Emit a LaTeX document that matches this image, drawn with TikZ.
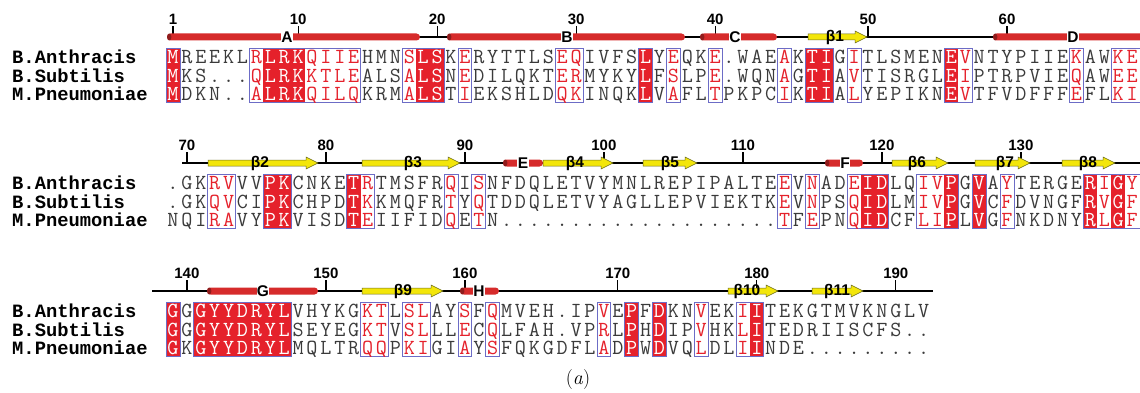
\documentclass[tikz,border=0pt]{standalone}
\usepackage{fontspec}
\newfontfamily\numfont{Liberation Sans}
\newfontfamily\namefont{Liberation Mono}
\usetikzlibrary{calc}
\definecolor{consfill}{HTML}{E5212B}
\definecolor{simframe}{HTML}{6C6CC6}
\definecolor{resk}{HTML}{3A3A3A}
\definecolor{resr}{HTML}{E5212B}
\definecolor{resw}{HTML}{FFFFFF}
\definecolor{helixfill}{HTML}{D62B2B}
\definecolor{helixend}{HTML}{8F1C1C}
\definecolor{strandfill}{HTML}{F3E60A}
\definecolor{strandline}{HTML}{6B6B22}
\tikzset{
  res/.style       = {inner sep=0pt, anchor=base, text height=12pt, text depth=0pt,
                      font=\fontsize{21.5}{21}\selectfont\ttfamily},
  seqname/.style   = {inner sep=0pt, anchor=base west, text height=12pt, text depth=0pt,
                      font=\fontsize{18.8}{19}\selectfont\namefont\bfseries},
  simbox/.style    = {draw=simframe, line width=0.9pt},
  backbone/.style  = {line width=1.4pt, draw=black},
  helix/.style     = {fill=helixfill, rounded corners=3.5pt},
  helixcap/.style  = {fill=helixend},
  strand/.style    = {fill=strandfill, draw=strandline, line width=0.5pt},
  sslabel/.style   = {font=\fontsize{15.5}{15}\selectfont\numfont\bfseries, inner sep=0.4pt},
  numlabel/.style  = {font=\fontsize{15}{15}\selectfont\numfont\bfseries,
                      inner sep=0pt, anchor=base},
  numtick/.style   = {line width=1.2pt},
}
%% --- aligned sequences, one list per block --------------------------
\def\seqBAa{M,R,E,E,K,L,R,L,R,K,Q,I,I,E,H,M,N,S,L,S,K,E,R,Y,T,T,L,S,E,Q,I,V,F,S,L,Y,E,Q,K,E,.,W,A,E,A,K,T,I,G,I,T,L,S,M,E,N,E,V,N,T,Y,P,I,I,E,K,A,W,K,E}
\def\seqBSa{M,K,S,.,.,.,Q,L,R,K,K,T,L,E,A,L,S,A,L,S,N,E,D,I,L,Q,K,T,E,R,M,Y,K,Y,L,F,S,L,P,E,.,W,Q,N,A,G,T,I,A,V,T,I,S,R,G,L,E,I,P,T,R,P,V,I,E,Q,A,W,E,E}
\def\seqMPa{M,D,K,N,.,.,A,L,R,K,Q,I,L,Q,K,R,M,A,L,S,T,I,E,K,S,H,L,D,Q,K,I,N,Q,K,L,V,A,F,L,T,P,K,P,C,I,K,T,I,A,L,Y,E,P,I,K,N,E,V,T,F,V,D,F,F,F,E,F,L,K,I}
\def\seqBAb{.,G,K,R,V,V,V,P,K,C,N,K,E,T,R,T,M,S,F,R,Q,I,S,N,F,D,Q,L,E,T,V,Y,M,N,L,R,E,P,I,P,A,L,T,E,E,V,N,A,D,E,I,D,L,Q,I,V,P,G,V,A,Y,T,E,R,G,E,R,I,G,Y}
\def\seqBSb{.,G,K,Q,V,C,I,P,K,C,H,P,D,T,K,K,M,Q,F,R,T,Y,Q,T,D,D,Q,L,E,T,V,Y,A,G,L,L,E,P,V,I,E,K,T,K,E,V,N,P,S,Q,I,D,L,M,I,V,P,G,V,C,F,D,V,N,G,F,R,V,G,F}
\def\seqMPb{N,Q,I,R,A,V,Y,P,K,V,I,S,D,T,E,I,I,F,I,D,Q,E,T,N,.,.,.,.,.,.,.,.,.,.,.,.,.,.,.,.,.,.,.,.,T,F,E,P,N,Q,I,D,C,F,L,I,P,L,V,G,F,N,K,D,N,Y,R,L,G,F}
\def\seqBAc{G,G,G,Y,Y,D,R,Y,L,V,H,Y,K,G,K,T,L,S,L,A,Y,S,F,Q,M,V,E,H,.,I,P,V,E,P,F,D,K,N,V,E,K,I,I,T,E,K,G,T,M,V,K,N,G,L,V}
\def\seqBSc{G,G,G,Y,Y,D,R,Y,L,S,E,Y,E,G,K,T,V,S,L,L,L,E,C,Q,L,F,A,H,.,V,P,R,L,P,H,D,I,P,V,H,K,L,I,T,E,D,R,I,I,S,C,F,S,.,.}
\def\seqMPc{G,K,G,Y,Y,D,R,Y,L,M,Q,L,T,R,Q,Q,P,K,I,G,I,A,Y,S,F,Q,K,G,D,F,L,A,D,P,W,D,V,Q,L,D,L,I,I,N,D,E,.,.,.,.,.,.,.,.,.}
%% --- similarity frames (first/last column) and strict identities ---
\def\framesa{1/1,7/14,18/20,22/22,29/30,35/35,37/37,40/40,45/45,47/48,50/50,57/58,66/66,69/71}
\def\consa{1,8,9,10,19,20,35,47,48,57}
\def\framesb{4/5,8/9,14/15,21/21,23/23,45/45,47/47,50/52,55/57,59/59,61/61,67/71}
\def\consb{8,9,14,51,52,57,59,67,69}
\def\framesc{1/1,3/9,15/16,18/19,22/22,24/24,32/32,34/34,36/36,39/39,42/43}
\def\consc{1,3,4,5,6,7,8,9,34,36,43}

\begin{document}
\begin{tikzpicture}[x=1pt, y=-1pt]

\fill[white] (0,0) rectangle (1140,393);
\useasboundingbox (0,0) rectangle (1140,393);

%% =====================================================================
%% Alignment blocks: boxes, frames, residues, names
%% =====================================================================
\foreach \blk/\yb in {a/37, b/163, c/291} {
  \expandafter\let\expandafter\flist\csname frames\blk\endcsname
  \expandafter\let\expandafter\clist\csname cons\blk\endcsname
  % red letters inside the frames
  \foreach \fa/\fb in \flist {
    \foreach \cn in {\fa,...,\fb} {\expandafter\xdef\csname cls\blk\cn\endcsname{r}}
  }
  % strictly conserved columns
  \foreach \cn in \clist {
    \expandafter\xdef\csname cls\blk\cn\endcsname{w}
    \fill[consfill] ({173+(\cn-1.5)*13.9}, \yb+11) rectangle ({173+(\cn-0.5)*13.9}, \yb+65.9);
  }
  \foreach \fa/\fb in \flist {
    \draw[simbox] ({173+(\fa-1.5)*13.9}, \yb+11) rectangle ({173+(\fb-0.5)*13.9}, \yb+65.9);
  }
  % residues and sequence names
  \foreach \sp/\nm/\dy in {BA/B.Anthracis/20, BS/B.Subtilis/38.7, MP/M.Pneumoniae/57.4} {
    \node[seqname] (name\sp\blk) at (12, \yb+\dy+6.4) {\nm};
    \expandafter\let\expandafter\seq\csname seq\sp\blk\endcsname
    \foreach \ch [count=\cn] in \seq {
      \ifcsname cls\blk\cn\endcsname
        \edef\cl{\csname cls\blk\cn\endcsname}\else\def\cl{k}\fi
      \node[res, text=res\cl] (r\sp\blk\cn) at ({173+(\cn-1)*13.9}, \yb+\dy+6.4) {\ch};
    }
  }
}

%% =====================================================================
%% Secondary structure
%% =====================================================================
\draw[backbone] (167,37)  -- (1141,37);
\draw[backbone] (182,163) -- (1141,163);
\draw[backbone] (152,291) -- (933,291);

% numbering ticks (column / residue / bar)
\foreach \cn/\num/\yy in {1/1/37, 10/10/37, 20/20/37, 30/30/37, 40/40/37, 51/50/37, 61/60/37,
                          2/70/163, 12/80/163, 22/90/163, 32/100/163, 42/110/163, 52/120/163, 62/130/163,
                          2/140/291, 12/150/291, 22/160/291, 33/170/291, 43/180/291, 53/190/291} {
  \draw[numtick] ({173+(\cn-1)*13.9}, \yy-11) -- ++(0,11);
  \node[numlabel] (n\num) at ({173+(\cn-1)*13.9}, \yy-12.5) {\num};
}

% helices
\foreach \xa/\xb/\yy/\lab/\lx in {167/420/37/A/287, 447/685/37/B/567, 700/777/37/C/735, 993/1160/37/D/1073,
                                  503/543/163/E/523, 825/863/163/F/845,
                                  207/318/291/G/263, 460/499/291/H/479} {
  \fill[helix] (\xa,\yy-3.5) rectangle (\xb,\yy+3.5);
  \fill[helixcap] (\xa+2.2,\yy) ellipse (2.2 and 3.5);
  \node[sslabel, fill=white] (helix\lab) at (\lx,\yy) {\lab};
}

% strands
\foreach \xa/\xb/\yy/\lab/\lx [count=\i] in {808/867/37/β1/835,
                                  208/318/163/β2/260, 362/460/163/β3/413, 543/613/163/β4/575,
                                  643/697/163/β5/670, 892/948/163/β6/917, 975/1030/163/β7/1005,
                                  1062/1115/163/β8/1088,
                                  362/443/291/β9/403, 728/778/291/β10/747, 812/863/291/β11/837} {
  \draw[strand] (\xa,\yy-3) -- (\xb-12,\yy-3) -- (\xb-12,\yy-6) -- (\xb,\yy)
                -- (\xb-12,\yy+6) -- (\xb-12,\yy+3) -- (\xa,\yy+3) -- cycle;
  \node[sslabel] (strand\i) at (\lx,\yy) {\lab};
}

%% --- caption -----------------------------------------------------------
\node[font=\fontsize{20}{20}\selectfont] (caption) at (578,380) {(\textit{a})};

\end{tikzpicture}
\end{document}
